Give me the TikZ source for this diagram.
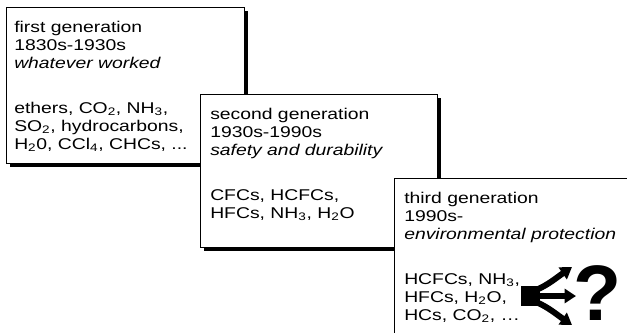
\documentclass[tikz,border=0pt]{standalone}
\usepackage{fontspec}
\setmainfont{Liberation Sans}
\newfontfamily\boxfont{Liberation Sans}[FakeStretch=1.24]
\usetikzlibrary{arrows.meta,shadows,positioning}
\tikzset{>={Triangle[length=8.5pt,width=10.5pt]},
  genbox/.style={draw=black, line width=0.9pt, fill=white, anchor=north west,
    inner sep=0pt,
    drop shadow={shadow xshift=2.25pt, shadow yshift=-2.25pt, fill=black, opacity=1}},
  gentext/.style={anchor=north west, inner sep=0pt, align=left,
    font=\boxfont\fontsize{11.7}{13.5}\selectfont},
  fork/.style={line width=4.5pt, ->}}

\begin{document}
\begin{tikzpicture}[x=0.75pt,y=-0.75pt]
  \useasboundingbox (0,0) rectangle (627,332);
  \clip (0,0) rectangle (627,332);

  \node[genbox, minimum width=178.5pt, minimum height=117pt] (g1) at (6,7) {};
  \node[gentext] (t1) at ([shift={(8,14)}]g1.north west)
    {first generation\\1830s-1930s\\\textit{whatever worked}\\[20.25pt]
     ethers, CO\textsubscript{2}, NH\textsubscript{3},\\
     SO\textsubscript{2}, hydrocarbons,\\
     H\textsubscript{2}0, CCl\textsubscript{4}, CHCs, ...};

  \node[genbox, minimum width=177.75pt, minimum height=114.75pt] (g2) at (200,94) {};
  \node[gentext] (t2) at ([shift={(10,14)}]g2.north west)
    {second generation\\1930s-1990s\\\textit{safety and durability}\\[20.25pt]
     CFCs, HCFCs,\\
     HFCs, NH\textsubscript{3}, H\textsubscript{2}O};

  \node[genbox, minimum width=180pt, minimum height=127.5pt] (g3) at (394,178) {};
  \node[gentext] (t3) at ([shift={(10,14)}]g3.north west)
    {third generation\\1990s-\\\textit{environmental protection}\\[20.25pt]
     HCFCs, NH\textsubscript{3},\\
     HFCs, H\textsubscript{2}O,\\
     HCs, CO\textsubscript{2}, …};

  % the fork towards the question mark
  \fill (521,286) rectangle (540,306);
  \draw[fork] (536,290) .. controls (548,285) and (556,278) .. (572,267);
  \draw[fork] (536,296) -- (576,296);
  \draw[fork] (536,302) .. controls (548,307) and (556,314) .. (572,325);
  \node[font=\fontsize{59}{59}\selectfont\bfseries, inner sep=0pt] (q) at (598,293) {?};
\end{tikzpicture}
\end{document}
